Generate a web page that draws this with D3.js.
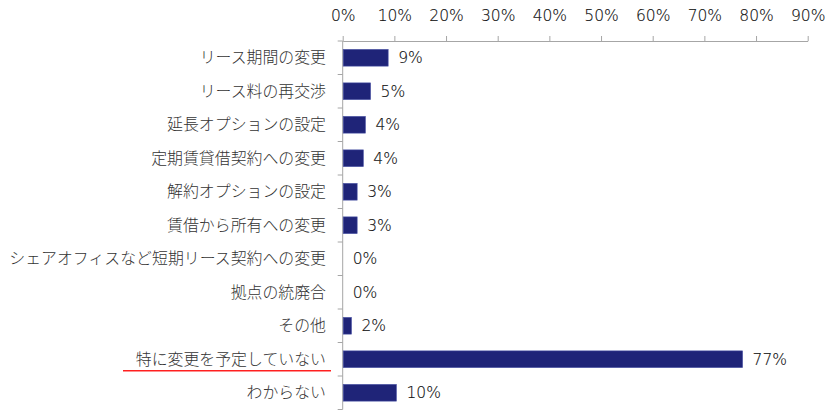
<!DOCTYPE html>
<html lang="ja">
<head>
<meta charset="utf-8">
<title>chart</title>
<script src="https://cdn.jsdelivr.net/npm/d3@7"></script>
<style>
	body{margin:0;background:#fff;}
	text{font-family:"DejaVu Sans","Noto Sans CJK JP",sans-serif;}
	.cat{font-family:"Noto Sans CJK JP",sans-serif;font-weight:300;}
	.num{font-family:"DejaVu Sans";font-weight:200;stroke:#111;stroke-width:0.15px;}
</style>
</head>
<body>
<div id="chart"></div>
<script>
// values
var categories = ["リース期間の変更","リース料の再交渉","延長オプションの設定","定期賃貸借契約への変更","解約オプションの設定","賃借から所有への変更","シェアオフィスなど短期リース契約への変更","拠点の統廃合","その他","特に変更を予定していない","わからない"]
var values = [8.8, 5.4, 4.4, 4.0, 2.8, 2.8, 0, 0, 1.7, 77.4, 10.4]
var ticks = [0,10,20,30,40,50,60,70,80,90]
var highlight = "特に変更を予定していない"

var w = 836, h = 416
var plotL = 342.7, plotR = 807.7, plotT = 41, plotB = 409.5

var svg = d3.select("#chart").append("svg")
	.attr("width",w)
	.attr("height",h)

var x = d3.scaleLinear().domain([0,90]).range([plotL,plotR])
var y = d3.scaleBand().domain(categories).range([plotT,plotB]).paddingInner(0.5).paddingOuter(0.25)

// top axis
var xAxis = d3.axisTop(x).tickValues(ticks).tickSize(5).tickSizeOuter(0)
	.tickFormat(function(d){ return d+"%" })
var gx = svg.append("g").attr("transform","translate(0,"+plotT+")").call(xAxis)
gx.attr("font-family",null)
gx.select(".domain").attr("stroke","#a6a6a6")
gx.selectAll(".tick line").attr("stroke","#a6a6a6")
gx.selectAll(".tick text").attr("class","num").attr("font-size","15.5px").attr("fill","#111").attr("y",-20)

// left axis, ticks at band boundaries
svg.append("line")
	.attr("x1",plotL).attr("x2",plotL).attr("y1",plotT).attr("y2",plotB)
	.attr("stroke","#a6a6a6")
var step = (plotB-plotT)/categories.length
svg.selectAll(".ytick")
	.data(d3.range(categories.length+1))
	.enter().append("line")
	.attr("x1",plotL-5).attr("x2",plotL)
	.attr("y1",function(i){ return plotT+i*step })
	.attr("y2",function(i){ return plotT+i*step })
	.attr("stroke","#a6a6a6")

// category labels
svg.selectAll(".cat")
	.data(categories)
	.enter().append("text")
	.attr("class","cat")
	.attr("x",326)
	.attr("y",function(d){ return y(d)+y.bandwidth()/2 })
	.attr("dy","0.36em")
	.attr("text-anchor","end")
	.attr("font-size","15.9px")
	.attr("fill","#333")
	.text(function(d){ return d })

// red underline
svg.append("line")
	.attr("x1",123).attr("x2",331)
	.attr("y1",y(highlight)+y.bandwidth()/2+11.5)
	.attr("y2",y(highlight)+y.bandwidth()/2+11.5)
	.attr("stroke","#ff2020")
	.attr("stroke-width",1.6)

// bars
svg.selectAll(".bar")
	.data(values)
	.enter().append("rect")
	.attr("x",x(0)+0.5)
	.attr("y",function(d,i){ return y(categories[i]) })
	.attr("width",function(d){ return Math.max(0,x(d)-x(0)-0.5) })
	.attr("height",y.bandwidth())
	.attr("fill","#1f2478")
	.attr("stroke",function(d){ return d>0 ? "#4b54a6" : "none" })
	.attr("stroke-width",0.6)

// value labels
svg.selectAll(".val")
	.data(values)
	.enter().append("text")
	.attr("class","num")
	.attr("x",function(d){ return x(d)+10 })
	.attr("y",function(d,i){ return y(categories[i])+y.bandwidth()/2 })
	.attr("dy","0.36em")
	.attr("font-size","15.5px")
	.attr("fill","#111")
	.text(function(d){ return Math.round(d)+"%" })
</script>
</body>
</html>
